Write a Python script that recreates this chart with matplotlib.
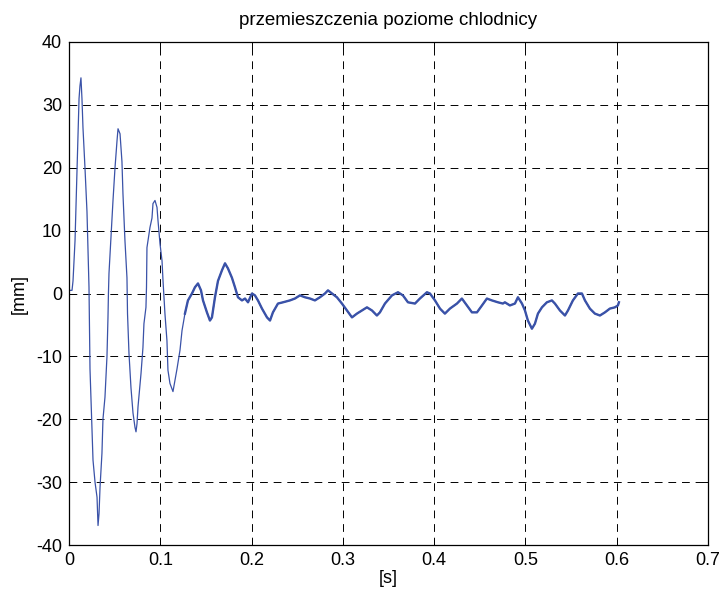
import matplotlib
matplotlib.use("Agg")
import matplotlib.pyplot as plt

# time [s] and horizontal displacement [mm]
t = [0.0, 0.0033, 0.0044, 0.0066, 0.0088, 0.0110, 0.0120, 0.0131, 0.0142, 0.0153,
     0.0175, 0.0197, 0.0219, 0.0230, 0.0252, 0.0263, 0.0285, 0.0307, 0.0318, 0.0329,
     0.0340, 0.0361, 0.0372, 0.0394, 0.0416, 0.0427, 0.0432, 0.0438, 0.0460, 0.0482,
     0.0504, 0.0526, 0.0537, 0.0559, 0.0580, 0.0591, 0.0613, 0.0635, 0.0641, 0.0657,
     0.0679, 0.0701, 0.0723, 0.0734, 0.0745, 0.0756, 0.0789, 0.0810, 0.0821, 0.0843,
     0.0849, 0.0854, 0.0887, 0.0909, 0.0920, 0.0942, 0.0964, 0.0975, 0.0997, 0.1019,
     0.1030, 0.1051, 0.1073, 0.1084, 0.1106, 0.1139, 0.1161, 0.1183, 0.1216, 0.1238,
     0.1270, 0.1303, 0.1347, 0.1380, 0.1413, 0.1446, 0.1468, 0.1511, 0.1544, 0.1566,
     0.1599, 0.1632, 0.1676, 0.1709, 0.1741, 0.1785, 0.1818, 0.1851, 0.1895, 0.1928,
     0.1961, 0.2004, 0.2037, 0.2070, 0.2114, 0.2169, 0.2202, 0.2234, 0.2289, 0.2344,
     0.2420, 0.2475, 0.2530, 0.2585, 0.2640, 0.2694, 0.2749, 0.2804, 0.2837, 0.2881,
     0.2935, 0.2990, 0.3045, 0.3100, 0.3154, 0.3209, 0.3264, 0.3319, 0.3373, 0.3406,
     0.3461, 0.3538, 0.3604, 0.3658, 0.3713, 0.3790, 0.3844, 0.3921, 0.3954, 0.4009,
     0.4064, 0.4118, 0.4173, 0.4250, 0.4304, 0.4359, 0.4414, 0.4469, 0.4524, 0.4578,
     0.4633, 0.4699, 0.4753, 0.4775, 0.4830, 0.4885, 0.4918, 0.4962, 0.4995, 0.5027,
     0.5071, 0.5104, 0.5137, 0.5181, 0.5235, 0.5290, 0.5323, 0.5378, 0.5433, 0.5466,
     0.5520, 0.5575, 0.5619, 0.5652, 0.5706, 0.5761, 0.5816, 0.5871, 0.5925, 0.5980,
     0.6013, 0.6024]
disp = [0.5, 0.5, 2.0, 8.4, 19.5, 31.0, 33.0, 34.3, 31.0, 26.4,
        20.0, 13.0, 1.0, -12.0, -22.0, -26.5, -30.0, -32.4, -36.9, -35.0,
        -30.8, -25.4, -20.0, -16.5, -10.0, -3.8, 0.0, 3.2, 9.0, 14.8,
        20.0, 24.3, 26.2, 25.4, 21.0, 15.9, 8.4, 2.5, -3.2, -9.5,
        -15.0, -19.0, -21.3, -22.0, -20.7, -18.0, -12.7, -8.6, -4.8, -2.2,
        1.0, 7.3, 10.5, 12.0, 14.3, 14.8, 13.7, 11.6, 7.9, 5.2,
        2.0, -3.2, -7.5, -12.2, -14.3, -15.6, -13.8, -12.0, -9.0, -5.9,
        -3.2, -1.1, 0.0, 1.0, 1.6, 0.5, -1.1, -3.0, -4.3, -3.8,
        -0.6, 2.0, 3.7, 4.8, 4.0, 2.5, 1.0, -0.6, -1.1, -0.8,
        -1.4, 0.0, -0.3, -1.1, -2.4, -3.8, -4.3, -3.0, -1.6, -1.4,
        -1.1, -0.8, -0.3, -0.6, -0.8, -1.1, -0.6, 0.0, 0.5, 0.0,
        -0.6, -1.6, -2.7, -3.8, -3.2, -2.7, -2.2, -2.7, -3.5, -3.0,
        -1.6, -0.3, 0.2, -0.3, -1.4, -1.6, -0.8, 0.2, 0.0, -1.1,
        -2.4, -3.2, -2.4, -1.6, -0.8, -1.9, -3.0, -3.0, -1.9, -0.8,
        -1.1, -1.4, -1.6, -1.4, -1.9, -1.6, -0.6, -1.6, -2.7, -4.3,
        -5.6, -4.8, -3.2, -2.2, -1.4, -1.1, -1.6, -2.7, -3.5, -2.7,
        -1.1, 0.0, 0.0, -1.1, -2.4, -3.2, -3.5, -3.0, -2.4, -2.2,
        -1.9, -1.4]

x_ticks = [0, 0.1, 0.2, 0.3, 0.4, 0.5, 0.6, 0.7]
x_labels = ["0", "0.1", "0.2", "0.3", "0.4", "0.5", "0.6", "0.7"]
y_ticks = [-40, -30, -20, -10, 0, 10, 20, 30, 40]
title = "przemieszczenia poziome chlodnicy"
xlabel = "[s]"
ylabel = "[mm]"

plt.rcParams['font.family'] = ['Liberation Sans', 'DejaVu Sans']
plt.rcParams['axes.unicode_minus'] = False
color = '#3a52a8'
fs = 13

fig = plt.figure(figsize=(7.21, 5.93), dpi=100)
ax = fig.add_axes([69 / 721, 48 / 593, (708 - 69) / 721, (545 - 42) / 593])

ax.plot(t, disp, color=color, lw=0.9)
# later part of the record is noisy: drawn as a thicker trace
idx = [i for i, v in enumerate(t) if v >= 0.125]
ax.plot([t[i] for i in idx], [disp[i] for i in idx], color=color, lw=1.7)

ax.set_xlim(0, 0.7)
ax.set_ylim(-40, 40)
ax.set_xticks(x_ticks)
ax.set_xticklabels(x_labels)
ax.set_yticks(y_ticks)
ax.grid(True, color='black', linestyle=(0, (8, 6)), linewidth=0.7)
ax.tick_params(direction='in', length=4, width=0.7, top=True, right=True,
               labelsize=fs, pad=5)
for s in ax.spines.values():
    s.set_linewidth(0.9)

ax.set_title(title, fontsize=13.5, pad=12)
ax.set_xlabel(xlabel, fontsize=fs, labelpad=1)
ax.set_ylabel(ylabel, fontsize=fs, labelpad=6)

fig.savefig("out.png", dpi=100)
